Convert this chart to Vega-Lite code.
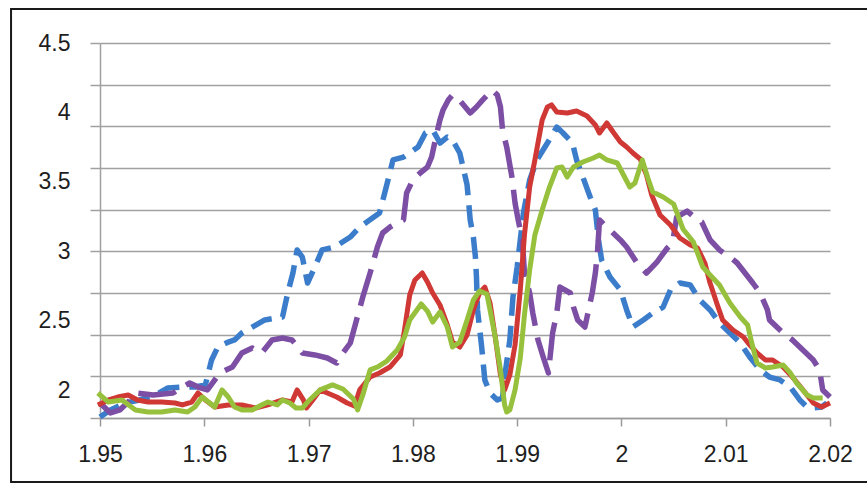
{
  "$schema": "https://vega.github.io/schema/vega-lite/v6.json",
  "width": 730,
  "height": 375,
  "autosize": "none",
  "padding": {"left": 100, "top": 43, "right": 37, "bottom": 67},
  "background": "white",
  "config": {
    "view": {"stroke": null},
    "axis": {"labelFont": "Liberation Sans", "labelFontSize": 23, "labelColor": "#1e1e1e", "labelOverlap": false}
  },
  "datasets": {
    "curves": [
      {"s": "A", "x": 1.95, "y": 1.807}, {"s": "A", "x": 1.951, "y": 1.858}, {"s": "A", "x": 1.9524, "y": 1.908}, {"s": "A", "x": 1.9538, "y": 1.93}, {"s": "A", "x": 1.9553, "y": 1.966}, {"s": "A", "x": 1.9565, "y": 2.016}, {"s": "A", "x": 1.9581, "y": 2.023}, {"s": "A", "x": 1.9591, "y": 2.023}, {"s": "A", "x": 1.9601, "y": 2.038}, {"s": "A", "x": 1.9607, "y": 2.218}, {"s": "A", "x": 1.9613, "y": 2.311}, {"s": "A", "x": 1.9623, "y": 2.347}, {"s": "A", "x": 1.9629, "y": 2.362}, {"s": "A", "x": 1.9636, "y": 2.412}, {"s": "A", "x": 1.9646, "y": 2.455}, {"s": "A", "x": 1.9658, "y": 2.506}, {"s": "A", "x": 1.9675, "y": 2.527}, {"s": "A", "x": 1.968, "y": 2.7}, {"s": "A", "x": 1.9685, "y": 2.844}, {"s": "A", "x": 1.9689, "y": 3.01}, {"s": "A", "x": 1.9694, "y": 2.959}, {"s": "A", "x": 1.9699, "y": 2.772}, {"s": "A", "x": 1.9706, "y": 2.887}, {"s": "A", "x": 1.9713, "y": 3.01}, {"s": "A", "x": 1.9725, "y": 3.031}, {"s": "A", "x": 1.974, "y": 3.103}, {"s": "A", "x": 1.9749, "y": 3.175}, {"s": "A", "x": 1.9768, "y": 3.276}, {"s": "A", "x": 1.9773, "y": 3.42}, {"s": "A", "x": 1.9781, "y": 3.658}, {"s": "A", "x": 1.9791, "y": 3.679}, {"s": "A", "x": 1.9805, "y": 3.751}, {"s": "A", "x": 1.9812, "y": 3.852}, {"s": "A", "x": 1.9819, "y": 3.874}, {"s": "A", "x": 1.9826, "y": 3.78}, {"s": "A", "x": 1.9833, "y": 3.823}, {"s": "A", "x": 1.9838, "y": 3.802}, {"s": "A", "x": 1.9845, "y": 3.708}, {"s": "A", "x": 1.9852, "y": 3.478}, {"s": "A", "x": 1.9855, "y": 3.226}, {"s": "A", "x": 1.9858, "y": 3.103}, {"s": "A", "x": 1.986, "y": 2.959}, {"s": "A", "x": 1.9861, "y": 2.815}, {"s": "A", "x": 1.9862, "y": 2.578}, {"s": "A", "x": 1.9866, "y": 2.311}, {"s": "A", "x": 1.9869, "y": 2.074}, {"s": "A", "x": 1.9874, "y": 1.98}, {"s": "A", "x": 1.9881, "y": 1.93}, {"s": "A", "x": 1.9886, "y": 1.944}, {"s": "A", "x": 1.9888, "y": 2.095}, {"s": "A", "x": 1.9893, "y": 2.362}, {"s": "A", "x": 1.9896, "y": 2.671}, {"s": "A", "x": 1.99, "y": 2.887}, {"s": "A", "x": 1.9906, "y": 3.276}, {"s": "A", "x": 1.9912, "y": 3.514}, {"s": "A", "x": 1.9919, "y": 3.658}, {"s": "A", "x": 1.9929, "y": 3.78}, {"s": "A", "x": 1.9938, "y": 3.895}, {"s": "A", "x": 1.9944, "y": 3.852}, {"s": "A", "x": 1.9953, "y": 3.78}, {"s": "A", "x": 1.9957, "y": 3.658}, {"s": "A", "x": 1.9963, "y": 3.535}, {"s": "A", "x": 1.997, "y": 3.391}, {"s": "A", "x": 1.9975, "y": 3.298}, {"s": "A", "x": 1.9978, "y": 3.082}, {"s": "A", "x": 1.9981, "y": 2.938}, {"s": "A", "x": 1.9989, "y": 2.815}, {"s": "A", "x": 1.9999, "y": 2.722}, {"s": "A", "x": 2.0005, "y": 2.578}, {"s": "A", "x": 2.0011, "y": 2.455}, {"s": "A", "x": 2.0021, "y": 2.506}, {"s": "A", "x": 2.003, "y": 2.556}, {"s": "A", "x": 2.004, "y": 2.599}, {"s": "A", "x": 2.0047, "y": 2.722}, {"s": "A", "x": 2.0056, "y": 2.772}, {"s": "A", "x": 2.0066, "y": 2.758}, {"s": "A", "x": 2.0075, "y": 2.65}, {"s": "A", "x": 2.0085, "y": 2.578}, {"s": "A", "x": 2.0094, "y": 2.484}, {"s": "A", "x": 2.0104, "y": 2.412}, {"s": "A", "x": 2.0114, "y": 2.34}, {"s": "A", "x": 2.0123, "y": 2.239}, {"s": "A", "x": 2.0133, "y": 2.146}, {"s": "A", "x": 2.0142, "y": 2.095}, {"s": "A", "x": 2.0152, "y": 2.074}, {"s": "A", "x": 2.0162, "y": 2.023}, {"s": "A", "x": 2.0171, "y": 1.93}, {"s": "A", "x": 2.0178, "y": 1.879}, {"s": "A", "x": 2.0184, "y": 1.872}, {"s": "A", "x": 2.0192, "y": 1.879}, {"s": "A", "x": 2.0197, "y": 1.908},

      {"s": "B", "x": 1.9498, "y": 1.894}, {"s": "B", "x": 1.9508, "y": 1.93}, {"s": "B", "x": 1.9517, "y": 1.951}, {"s": "B", "x": 1.9527, "y": 1.966}, {"s": "B", "x": 1.9536, "y": 1.93}, {"s": "B", "x": 1.9546, "y": 1.915}, {"s": "B", "x": 1.9559, "y": 1.915}, {"s": "B", "x": 1.9572, "y": 1.908}, {"s": "B", "x": 1.9579, "y": 1.894}, {"s": "B", "x": 1.9588, "y": 1.915}, {"s": "B", "x": 1.9594, "y": 1.98}, {"s": "B", "x": 1.9601, "y": 1.93}, {"s": "B", "x": 1.961, "y": 1.879}, {"s": "B", "x": 1.9623, "y": 1.894}, {"s": "B", "x": 1.9636, "y": 1.894}, {"s": "B", "x": 1.9649, "y": 1.872}, {"s": "B", "x": 1.9661, "y": 1.894}, {"s": "B", "x": 1.9675, "y": 1.93}, {"s": "B", "x": 1.9684, "y": 1.915}, {"s": "B", "x": 1.9689, "y": 2.002}, {"s": "B", "x": 1.9695, "y": 1.93}, {"s": "B", "x": 1.9698, "y": 1.872}, {"s": "B", "x": 1.9704, "y": 1.93}, {"s": "B", "x": 1.9711, "y": 2.002}, {"s": "B", "x": 1.9718, "y": 1.98}, {"s": "B", "x": 1.9727, "y": 1.951}, {"s": "B", "x": 1.9737, "y": 1.908}, {"s": "B", "x": 1.9744, "y": 1.886}, {"s": "B", "x": 1.9749, "y": 2.002}, {"s": "B", "x": 1.9759, "y": 2.095}, {"s": "B", "x": 1.9768, "y": 2.124}, {"s": "B", "x": 1.9778, "y": 2.167}, {"s": "B", "x": 1.9788, "y": 2.254}, {"s": "B", "x": 1.9792, "y": 2.434}, {"s": "B", "x": 1.9797, "y": 2.686}, {"s": "B", "x": 1.9802, "y": 2.794}, {"s": "B", "x": 1.9809, "y": 2.844}, {"s": "B", "x": 1.9814, "y": 2.779}, {"s": "B", "x": 1.9819, "y": 2.7}, {"s": "B", "x": 1.9826, "y": 2.614}, {"s": "B", "x": 1.9833, "y": 2.47}, {"s": "B", "x": 1.9838, "y": 2.347}, {"s": "B", "x": 1.9845, "y": 2.311}, {"s": "B", "x": 1.9852, "y": 2.398}, {"s": "B", "x": 1.9858, "y": 2.578}, {"s": "B", "x": 1.9864, "y": 2.7}, {"s": "B", "x": 1.9869, "y": 2.743}, {"s": "B", "x": 1.9874, "y": 2.628}, {"s": "B", "x": 1.9879, "y": 2.383}, {"s": "B", "x": 1.9884, "y": 2.11}, {"s": "B", "x": 1.9888, "y": 2.002}, {"s": "B", "x": 1.9893, "y": 2.11}, {"s": "B", "x": 1.9898, "y": 2.326}, {"s": "B", "x": 1.9903, "y": 2.722}, {"s": "B", "x": 1.9907, "y": 3.118}, {"s": "B", "x": 1.9912, "y": 3.463}, {"s": "B", "x": 1.9917, "y": 3.658}, {"s": "B", "x": 1.9924, "y": 3.946}, {"s": "B", "x": 1.9929, "y": 4.039}, {"s": "B", "x": 1.9933, "y": 4.054}, {"s": "B", "x": 1.9938, "y": 4.003}, {"s": "B", "x": 1.9948, "y": 3.996}, {"s": "B", "x": 1.9957, "y": 4.01}, {"s": "B", "x": 1.9967, "y": 3.974}, {"s": "B", "x": 1.9975, "y": 3.91}, {"s": "B", "x": 1.9979, "y": 3.852}, {"s": "B", "x": 1.9986, "y": 3.924}, {"s": "B", "x": 1.9992, "y": 3.859}, {"s": "B", "x": 1.9999, "y": 3.787}, {"s": "B", "x": 2.0005, "y": 3.751}, {"s": "B", "x": 2.0011, "y": 3.708}, {"s": "B", "x": 2.0018, "y": 3.665}, {"s": "B", "x": 2.0024, "y": 3.55}, {"s": "B", "x": 2.0029, "y": 3.406}, {"s": "B", "x": 2.0037, "y": 3.262}, {"s": "B", "x": 2.0047, "y": 3.19}, {"s": "B", "x": 2.0056, "y": 3.096}, {"s": "B", "x": 2.0066, "y": 3.046}, {"s": "B", "x": 2.0073, "y": 3.024}, {"s": "B", "x": 2.008, "y": 2.916}, {"s": "B", "x": 2.0085, "y": 2.772}, {"s": "B", "x": 2.0092, "y": 2.614}, {"s": "B", "x": 2.0097, "y": 2.506}, {"s": "B", "x": 2.0107, "y": 2.434}, {"s": "B", "x": 2.0117, "y": 2.383}, {"s": "B", "x": 2.0123, "y": 2.326}, {"s": "B", "x": 2.013, "y": 2.268}, {"s": "B", "x": 2.0138, "y": 2.218}, {"s": "B", "x": 2.0145, "y": 2.218}, {"s": "B", "x": 2.0155, "y": 2.167}, {"s": "B", "x": 2.0164, "y": 2.095}, {"s": "B", "x": 2.0174, "y": 2.002}, {"s": "B", "x": 2.0184, "y": 1.908}, {"s": "B", "x": 2.0192, "y": 1.879}, {"s": "B", "x": 2.02, "y": 1.908},

      {"s": "C", "x": 1.9498, "y": 1.98}, {"s": "C", "x": 1.9508, "y": 1.915}, {"s": "C", "x": 1.9521, "y": 1.93}, {"s": "C", "x": 1.9534, "y": 1.858}, {"s": "C", "x": 1.9546, "y": 1.843}, {"s": "C", "x": 1.9559, "y": 1.843}, {"s": "C", "x": 1.9572, "y": 1.858}, {"s": "C", "x": 1.9584, "y": 1.843}, {"s": "C", "x": 1.9591, "y": 1.879}, {"s": "C", "x": 1.9598, "y": 1.951}, {"s": "C", "x": 1.9604, "y": 1.915}, {"s": "C", "x": 1.961, "y": 1.879}, {"s": "C", "x": 1.9617, "y": 2.002}, {"s": "C", "x": 1.9623, "y": 1.951}, {"s": "C", "x": 1.9629, "y": 1.879}, {"s": "C", "x": 1.9636, "y": 1.858}, {"s": "C", "x": 1.9646, "y": 1.858}, {"s": "C", "x": 1.9655, "y": 1.894}, {"s": "C", "x": 1.9661, "y": 1.915}, {"s": "C", "x": 1.967, "y": 1.894}, {"s": "C", "x": 1.9675, "y": 1.93}, {"s": "C", "x": 1.9682, "y": 1.908}, {"s": "C", "x": 1.9688, "y": 1.872}, {"s": "C", "x": 1.9694, "y": 1.872}, {"s": "C", "x": 1.9701, "y": 1.93}, {"s": "C", "x": 1.9711, "y": 2.002}, {"s": "C", "x": 1.9723, "y": 2.038}, {"s": "C", "x": 1.9733, "y": 2.009}, {"s": "C", "x": 1.9743, "y": 1.937}, {"s": "C", "x": 1.9747, "y": 1.858}, {"s": "C", "x": 1.9752, "y": 1.966}, {"s": "C", "x": 1.9759, "y": 2.146}, {"s": "C", "x": 1.9766, "y": 2.167}, {"s": "C", "x": 1.9775, "y": 2.21}, {"s": "C", "x": 1.9785, "y": 2.29}, {"s": "C", "x": 1.9792, "y": 2.383}, {"s": "C", "x": 1.9797, "y": 2.506}, {"s": "C", "x": 1.9808, "y": 2.621}, {"s": "C", "x": 1.9814, "y": 2.57}, {"s": "C", "x": 1.9819, "y": 2.491}, {"s": "C", "x": 1.9826, "y": 2.563}, {"s": "C", "x": 1.9833, "y": 2.455}, {"s": "C", "x": 1.9838, "y": 2.311}, {"s": "C", "x": 1.9845, "y": 2.347}, {"s": "C", "x": 1.9852, "y": 2.506}, {"s": "C", "x": 1.9858, "y": 2.65}, {"s": "C", "x": 1.9864, "y": 2.714}, {"s": "C", "x": 1.9871, "y": 2.693}, {"s": "C", "x": 1.9874, "y": 2.578}, {"s": "C", "x": 1.9879, "y": 2.383}, {"s": "C", "x": 1.9884, "y": 2.146}, {"s": "C", "x": 1.9888, "y": 1.894}, {"s": "C", "x": 1.989, "y": 1.843}, {"s": "C", "x": 1.9893, "y": 1.858}, {"s": "C", "x": 1.9898, "y": 2.002}, {"s": "C", "x": 1.9903, "y": 2.232}, {"s": "C", "x": 1.9907, "y": 2.542}, {"s": "C", "x": 1.9912, "y": 2.866}, {"s": "C", "x": 1.9917, "y": 3.118}, {"s": "C", "x": 1.9924, "y": 3.298}, {"s": "C", "x": 1.9931, "y": 3.463}, {"s": "C", "x": 1.9938, "y": 3.6}, {"s": "C", "x": 1.9943, "y": 3.607}, {"s": "C", "x": 1.9948, "y": 3.535}, {"s": "C", "x": 1.9954, "y": 3.607}, {"s": "C", "x": 1.9963, "y": 3.643}, {"s": "C", "x": 1.9973, "y": 3.672}, {"s": "C", "x": 1.9979, "y": 3.694}, {"s": "C", "x": 1.9986, "y": 3.658}, {"s": "C", "x": 1.9996, "y": 3.636}, {"s": "C", "x": 2.0001, "y": 3.564}, {"s": "C", "x": 2.0008, "y": 3.463}, {"s": "C", "x": 2.0013, "y": 3.492}, {"s": "C", "x": 2.002, "y": 3.658}, {"s": "C", "x": 2.0025, "y": 3.535}, {"s": "C", "x": 2.003, "y": 3.427}, {"s": "C", "x": 2.004, "y": 3.391}, {"s": "C", "x": 2.005, "y": 3.341}, {"s": "C", "x": 2.0059, "y": 3.161}, {"s": "C", "x": 2.0069, "y": 3.067}, {"s": "C", "x": 2.0078, "y": 2.887}, {"s": "C", "x": 2.0085, "y": 2.83}, {"s": "C", "x": 2.0094, "y": 2.758}, {"s": "C", "x": 2.0104, "y": 2.628}, {"s": "C", "x": 2.0114, "y": 2.527}, {"s": "C", "x": 2.0121, "y": 2.47}, {"s": "C", "x": 2.0125, "y": 2.34}, {"s": "C", "x": 2.013, "y": 2.196}, {"s": "C", "x": 2.0138, "y": 2.16}, {"s": "C", "x": 2.0145, "y": 2.167}, {"s": "C", "x": 2.0155, "y": 2.182}, {"s": "C", "x": 2.0162, "y": 2.124}, {"s": "C", "x": 2.0168, "y": 2.052}, {"s": "C", "x": 2.0178, "y": 1.966}, {"s": "C", "x": 2.0184, "y": 1.944}, {"s": "C", "x": 2.0193, "y": 1.944},

      {"s": "D", "x": 1.95, "y": 1.908}, {"s": "D", "x": 1.951, "y": 1.836}, {"s": "D", "x": 1.9519, "y": 1.858}, {"s": "D", "x": 1.9529, "y": 1.93}, {"s": "D", "x": 1.9535, "y": 1.98}, {"s": "D", "x": 1.9551, "y": 1.966}, {"s": "D", "x": 1.957, "y": 1.98}, {"s": "D", "x": 1.9579, "y": 2.023}, {"s": "D", "x": 1.9586, "y": 2.052}, {"s": "D", "x": 1.9594, "y": 2.023}, {"s": "D", "x": 1.9603, "y": 2.002}, {"s": "D", "x": 1.9615, "y": 2.124}, {"s": "D", "x": 1.9627, "y": 2.167}, {"s": "D", "x": 1.9636, "y": 2.268}, {"s": "D", "x": 1.9646, "y": 2.304}, {"s": "D", "x": 1.9655, "y": 2.268}, {"s": "D", "x": 1.9665, "y": 2.362}, {"s": "D", "x": 1.9675, "y": 2.376}, {"s": "D", "x": 1.9684, "y": 2.362}, {"s": "D", "x": 1.969, "y": 2.311}, {"s": "D", "x": 1.9694, "y": 2.268}, {"s": "D", "x": 1.9706, "y": 2.254}, {"s": "D", "x": 1.9718, "y": 2.232}, {"s": "D", "x": 1.9727, "y": 2.196}, {"s": "D", "x": 1.9733, "y": 2.268}, {"s": "D", "x": 1.974, "y": 2.34}, {"s": "D", "x": 1.9746, "y": 2.506}, {"s": "D", "x": 1.9752, "y": 2.671}, {"s": "D", "x": 1.9759, "y": 2.844}, {"s": "D", "x": 1.9766, "y": 3.031}, {"s": "D", "x": 1.9771, "y": 3.132}, {"s": "D", "x": 1.9778, "y": 3.175}, {"s": "D", "x": 1.9785, "y": 3.204}, {"s": "D", "x": 1.9791, "y": 3.226}, {"s": "D", "x": 1.9794, "y": 3.42}, {"s": "D", "x": 1.98, "y": 3.514}, {"s": "D", "x": 1.9807, "y": 3.564}, {"s": "D", "x": 1.9814, "y": 3.607}, {"s": "D", "x": 1.9818, "y": 3.679}, {"s": "D", "x": 1.9823, "y": 3.852}, {"s": "D", "x": 1.9826, "y": 3.946}, {"s": "D", "x": 1.9829, "y": 4.018}, {"s": "D", "x": 1.9834, "y": 4.09}, {"s": "D", "x": 1.9838, "y": 4.126}, {"s": "D", "x": 1.9843, "y": 4.104}, {"s": "D", "x": 1.9855, "y": 3.996}, {"s": "D", "x": 1.9861, "y": 4.039}, {"s": "D", "x": 1.9867, "y": 4.09}, {"s": "D", "x": 1.9876, "y": 4.162}, {"s": "D", "x": 1.9881, "y": 4.126}, {"s": "D", "x": 1.9884, "y": 4.039}, {"s": "D", "x": 1.9886, "y": 3.874}, {"s": "D", "x": 1.989, "y": 3.751}, {"s": "D", "x": 1.9895, "y": 3.535}, {"s": "D", "x": 1.9898, "y": 3.348}, {"s": "D", "x": 1.9901, "y": 3.226}, {"s": "D", "x": 1.9905, "y": 3.082}, {"s": "D", "x": 1.9907, "y": 2.844}, {"s": "D", "x": 1.9912, "y": 2.7}, {"s": "D", "x": 1.9915, "y": 2.556}, {"s": "D", "x": 1.992, "y": 2.362}, {"s": "D", "x": 1.9925, "y": 2.239}, {"s": "D", "x": 1.993, "y": 2.124}, {"s": "D", "x": 1.9934, "y": 2.412}, {"s": "D", "x": 1.9938, "y": 2.556}, {"s": "D", "x": 1.9941, "y": 2.743}, {"s": "D", "x": 1.9951, "y": 2.7}, {"s": "D", "x": 1.9954, "y": 2.599}, {"s": "D", "x": 1.9958, "y": 2.506}, {"s": "D", "x": 1.9965, "y": 2.455}, {"s": "D", "x": 1.9972, "y": 2.7}, {"s": "D", "x": 1.9975, "y": 2.844}, {"s": "D", "x": 1.9977, "y": 2.988}, {"s": "D", "x": 1.9979, "y": 3.226}, {"s": "D", "x": 1.9986, "y": 3.175}, {"s": "D", "x": 1.9992, "y": 3.132}, {"s": "D", "x": 1.9999, "y": 3.082}, {"s": "D", "x": 2.0005, "y": 3.031}, {"s": "D", "x": 2.0015, "y": 2.916}, {"s": "D", "x": 2.0024, "y": 2.844}, {"s": "D", "x": 2.0034, "y": 2.923}, {"s": "D", "x": 2.0044, "y": 3.024}, {"s": "D", "x": 2.0049, "y": 3.06}, {"s": "D", "x": 2.0053, "y": 3.247}, {"s": "D", "x": 2.0063, "y": 3.29}, {"s": "D", "x": 2.0073, "y": 3.226}, {"s": "D", "x": 2.0077, "y": 3.211}, {"s": "D", "x": 2.0085, "y": 3.082}, {"s": "D", "x": 2.0094, "y": 3.01}, {"s": "D", "x": 2.0104, "y": 2.959}, {"s": "D", "x": 2.0111, "y": 2.916}, {"s": "D", "x": 2.0126, "y": 2.772}, {"s": "D", "x": 2.0133, "y": 2.7}, {"s": "D", "x": 2.014, "y": 2.578}, {"s": "D", "x": 2.0142, "y": 2.506}, {"s": "D", "x": 2.0155, "y": 2.412}, {"s": "D", "x": 2.0164, "y": 2.362}, {"s": "D", "x": 2.0174, "y": 2.29}, {"s": "D", "x": 2.0184, "y": 2.218}, {"s": "D", "x": 2.019, "y": 2.146}, {"s": "D", "x": 2.0193, "y": 2.002}, {"s": "D", "x": 2.02, "y": 1.951}
    ]
  },
  "data": {"name": "curves"},
  "resolve": {"axis": {"y": "independent"}},
  "layer": [
    {
      "transform": [{"filter": "datum.s === 'A'"}],
      "mark": {"type": "line", "color": "#3b7dcb", "strokeWidth": 5.5, "strokeDash": [22, 10], "strokeJoin": "round"},
      "encoding": {
        "x": {
          "field": "x",
          "type": "quantitative",
          "title": null,
          "scale": {"domain": [1.95, 2.02], "nice": false, "zero": false},
          "axis": {
            "values": [1.95, 1.96, 1.97, 1.98, 1.99, 2.0, 2.01, 2.02],
            "format": ".2~f",
            "grid": false,
            "domainColor": "#9a9a9a",
            "domainWidth": 1.5,
            "tickColor": "#9a9a9a",
            "tickWidth": 1.5,
            "tickSize": 8,
            "labelPadding": 17,
            "labelFlush": false
          }
        },
        "y": {
          "field": "y",
          "type": "quantitative",
          "title": null,
          "scale": {"domain": [1.8, 4.5], "nice": false, "zero": false},
          "axis": {
            "orient": "left",
            "values": [1.8, 2.1, 2.4, 2.7, 3, 3.3, 3.6, 3.9, 4.2, 4.5],
            "labels": false,
            "grid": true,
            "gridColor": "#a0a0a0",
            "gridWidth": 1.5,
            "tickColor": "#a0a0a0",
            "tickWidth": 1.5,
            "tickSize": 10,
            "domainColor": "#a0a0a0",
            "domainWidth": 1.5
          }
        }
      }
    },
    {
      "transform": [{"filter": "datum.s === 'D'"}],
      "mark": {"type": "line", "color": "#7c4fa5", "strokeWidth": 5.5, "strokeDash": [38, 12], "strokeJoin": "round"},
      "encoding": {
        "x": {"field": "x", "type": "quantitative"},
        "y": {
          "field": "y",
          "type": "quantitative",
          "title": null,
          "axis": {
            "orient": "left",
            "values": [2, 2.5, 3, 3.5, 4, 4.5],
            "format": ".1~f",
            "grid": false,
            "ticks": false,
            "tickSize": 0,
            "domain": false,
            "labelPadding": 30
          }
        }
      }
    },
    {
      "transform": [{"filter": "datum.s === 'B'"}],
      "mark": {"type": "line", "color": "#cf3834", "strokeWidth": 5, "strokeJoin": "round"},
      "encoding": {"x": {"field": "x", "type": "quantitative"}, "y": {"field": "y", "type": "quantitative", "axis": null}}
    },
    {
      "transform": [{"filter": "datum.s === 'C'"}],
      "mark": {"type": "line", "color": "#97c03d", "strokeWidth": 5, "strokeJoin": "round"},
      "encoding": {"x": {"field": "x", "type": "quantitative"}, "y": {"field": "y", "type": "quantitative", "axis": null}}
    },
    {
      "data": {"values": [{}]},
      "mark": {"type": "rect", "fill": "transparent", "stroke": "#1a1a1a", "strokeWidth": 2, "clip": false},
      "encoding": {
        "x": {"datum": 1.94147, "type": "quantitative"},
        "x2": {"datum": 2.0245},
        "y": {"datum": 4.7448, "type": "quantitative", "axis": null},
        "y2": {"datum": 1.3392}
      }
    }
  ]
}
